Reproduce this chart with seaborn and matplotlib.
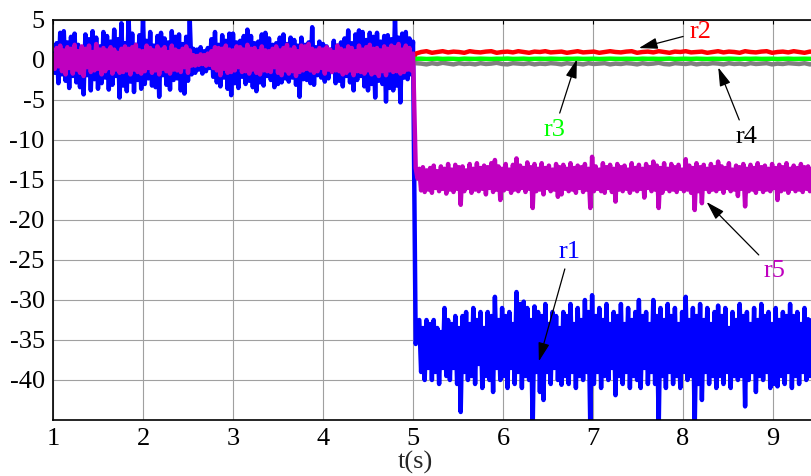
import numpy as np
import matplotlib
matplotlib.use('Agg')
import matplotlib.pyplot as plt
import seaborn as sns

# time grids (s), 50 samples per second
t_pre = np.linspace(1.0, 5.0, 201)
t_post = np.linspace(5.03, 9.47, 223)
t_flat_pre = [1.0, 2.0, 3.0, 4.0, 5.0]
t_flat_post = np.linspace(5.03, 9.47, 75)

# r1 (blue)
r1_pre = [0.8, -1.6, 2.1, -2.9, 3.4, -1.8, 3.6, -2.6, 2.2, -3.5,
          2.9, -2.0, 3.3, -2.8, 1.9, -3.4, 1.2, -4.3, 3.2, -1.9,
          2.6, -3.8, 3.6, -2.4, 2.8, -3.6, 1.7, -2.9, 3.5, -2.2,
          3.0, -3.7, 2.3, -3.1, 3.8, -2.0, 2.6, -4.7, 4.6, -3.2,
          2.1, -3.9, 5.4, -2.7, 3.3, -4.0, 1.9, -2.5, 3.1, -3.6,
          5.5, -3.0, 2.4, -2.3, 3.5, -3.2, 1.8, -3.4, 3.0, -4.6,
          3.4, -1.9, 2.7, -3.1, 2.2, -3.7, 3.6, -2.5, 2.9, -2.3,
          3.2, -3.8, 2.0, -4.2, 2.9, -2.6, 4.9, -1.8, 1.4, -1.6,
          1.3, -1.2, 1.6, -1.7, 1.1, -1.4, 1.5, -1.0, 2.6, -2.1,
          3.5, -2.8, 1.9, -3.3, 3.1, -2.2, 2.4, -3.6, 3.3, -4.4,
          3.3, -2.9, 2.2, -3.5, 2.4, -2.1, 3.0, -3.0, 3.8, -2.6,
          3.0, -3.4, 2.1, -3.9, 2.3, -2.8, 3.2, -3.2, 3.4, -2.0,
          2.7, -2.5, 1.9, -3.4, 2.1, -3.0, 2.8, -2.8, 3.2, -2.3,
          2.0, -2.7, 2.8, -2.2, 2.5, -3.1, 1.8, -4.6, 2.8, -2.4,
          1.9, -2.5, 2.2, -2.9, 4.1, -3.1, 1.6, -1.9, 2.3, -2.2,
          2.0, -2.7, 1.7, -2.3, 1.3, -1.5, 2.4, -2.9, 1.8, -2.6,
          2.2, -3.3, 2.7, -2.0, 3.7, -2.8, 2.1, -3.8, 3.2, -2.5,
          3.7, -2.0, 3.5, -3.3, 2.5, -3.8, 3.4, -3.0, 2.9, -4.7,
          3.4, -2.6, 2.3, -3.0, 3.0, -5.2, 3.1, -3.5, 2.6, -3.8,
          5.3, -3.2, 2.8, -5.3, 3.3, -2.2, 3.5, -2.4, 2.7, -1.8,
          2.3]
r1_post = [-35.5, -34.0, -32.5, -39.0, -33.5, -40.0, -32.5, -38.5, -33.0, -40.0,
           -32.5, -39.0, -33.5, -40.5, -34.0, -38.5, -31.0, -39.5, -32.5, -40.0,
           -33.0, -38.5, -32.0, -40.5, -33.5, -44.0, -32.0, -39.0, -31.5, -40.0,
           -33.0, -39.5, -31.0, -40.5, -32.5, -38.0, -31.5, -41.0, -33.5, -39.5,
           -31.5, -40.0, -32.0, -41.5, -29.6, -38.5, -32.5, -40.0, -31.0, -39.5,
           -32.0, -41.0, -31.5, -38.5, -33.0, -40.5, -29.0, -39.0, -30.5, -41.0,
           -30.2, -39.5, -31.0, -40.0, -32.5, -46.0, -30.8, -39.0, -31.5, -41.5,
           -32.0, -42.5, -30.5, -39.0, -33.0, -40.5, -31.5, -38.5, -32.0, -40.0,
           -33.5, -40.6, -31.5, -39.5, -32.0, -40.5, -30.5, -39.0, -33.0, -41.0,
           -31.0, -39.5, -32.5, -40.0, -30.0, -39.0, -31.5, -46.0, -29.4, -40.5,
           -32.0, -39.0, -31.0, -41.0, -32.5, -39.5, -30.5, -40.0, -33.0, -38.5,
           -31.5, -41.9, -32.0, -39.5, -30.5, -40.5, -33.0, -39.0, -31.0, -41.0,
           -32.5, -39.5, -31.5, -40.0, -30.0, -41.0, -32.0, -38.5, -31.5, -40.5,
           -33.0, -39.0, -30.0, -40.5, -32.0, -46.0, -31.0, -39.5, -32.5, -41.0,
           -30.5, -39.0, -32.0, -40.5, -31.0, -39.5, -33.0, -41.0, -31.5, -39.0,
           -29.6, -40.0, -32.5, -39.5, -31.0, -46.0, -32.0, -40.5, -30.5, -42.5,
           -32.5, -39.0, -31.0, -40.5, -33.0, -39.5, -31.5, -41.0, -30.7, -39.5,
           -32.0, -40.5, -31.0, -39.0, -33.5, -41.0, -31.5, -39.5, -32.5, -40.0,
           -30.5, -39.5, -32.0, -43.3, -31.5, -40.0, -33.0, -39.0, -31.0, -41.5,
           -32.5, -39.5, -30.5, -40.0, -32.0, -39.0, -31.5, -41.0, -33.0, -40.5,
           -31.0, -40.8, -32.5, -39.5, -31.5, -40.5, -32.0, -39.0, -30.5, -41.0,
           -32.0, -39.5, -31.5, -40.5, -33.0, -39.0, -31.0, -40.0, -32.4, -39.5,
           -32.5, -40.0, -33.0]

# r5 (magenta)
r5_pre = [0.6, -1.1, 1.5, -0.8, 1.8, -1.4, 1.2, -1.8, 1.6, -1.0,
          1.4, -1.7, 1.9, -1.2, 1.1, -1.6, 1.7, -2.0, 1.4, -0.9,
          1.8, -1.5, 1.0, -1.3, 2.0, -1.1, 1.3, -1.8, 1.5, -1.4,
          1.2, -1.0, 1.6, -1.7, 1.3, -1.2, 0.9, -1.6, 1.4, -1.5,
          1.7, -1.3, 1.4, -1.8, 1.6, -1.2, 1.9, -1.5, 1.2, -1.7,
          1.1, -1.4, 1.8, -1.0, 1.5, -1.6, 1.2, -1.3, 1.7, -1.8,
          1.3, -1.1, 1.6, -1.4, 1.0, -1.7, 1.8, -1.2, 1.3, -1.3,
          1.1, -1.5, 1.4, -0.9, 1.7, -1.6, 1.2, -0.7, 0.6, -0.7,
          0.5, -0.6, 0.7, -0.5, 0.6, -0.7, 0.8, -0.6, 1.1, -1.0,
          1.6, -1.3, 1.5, -1.9, 1.4, -1.1, 1.8, -1.6, 1.3, -1.5,
          1.2, -1.3, 1.7, -0.9, 1.6, -1.5, 1.3, -1.4, 1.9, -1.7,
          1.4, -1.2, 1.5, -1.6, 1.1, -1.8, 1.7, -1.3, 1.2, -1.4,
          1.1, -1.5, 1.4, -0.9, 1.7, -1.6, 1.2, -1.9, 1.5, -1.3,
          1.9, -1.7, 1.3, -1.4, 1.6, -2.0, 1.1, -1.5, 1.8, -1.3,
          1.7, -1.1, 2.0, -1.3, 1.4, -1.6, 1.2, -1.4, 1.5, -1.0,
          1.3, -1.7, 1.6, -1.2, 1.3, -1.5, 1.0, -1.3, 1.8, -1.4,
          1.4, -1.8, 1.2, -1.6, 1.7, -1.3, 1.5, -1.9, 1.1, -1.4,
          1.8, -1.5, 1.3, -1.7, 1.6, -1.3, 1.9, -1.8, 1.4, -1.6,
          1.5, -2.0, 1.2, -1.4, 1.7, -1.9, 1.4, -1.3, 1.8, -1.5,
          1.6, -1.4, 2.0, -1.7, 1.3, -1.5, 1.8, -1.2, 1.5, -1.3,
          0.8]
r5_post = [-13.5, -14.8, -13.6, -16.3, -13.4, -16.5, -13.8, -16.2, -13.5, -16.6,
           -13.2, -16.0, -13.9, -16.4, -13.3, -16.1, -13.6, -16.7, -13.0, -16.2,
           -13.7, -16.5, -13.1, -16.1, -13.4, -18.1, -13.3, -16.4, -13.8, -16.0,
           -13.0, -16.6, -13.6, -16.2, -12.9, -16.4, -13.5, -16.1, -13.2, -16.8,
           -13.4, -16.0, -12.9, -16.5, -12.5, -16.2, -13.3, -17.5, -13.6, -16.3,
           -13.0, -16.1, -13.7, -16.6, -13.1, -16.2, -12.3, -16.4, -13.2, -16.0,
           -13.5, -16.5, -12.8, -16.1, -13.4, -18.5, -13.0, -16.4, -13.6, -16.2,
           -12.9, -16.8, -13.5, -16.0, -13.2, -16.4, -13.7, -16.2, -13.0, -17.1,
           -13.4, -16.8, -13.1, -16.1, -13.6, -16.4, -12.9, -16.2, -13.5, -16.6,
           -13.2, -16.0, -13.4, -16.5, -13.0, -16.2, -13.6, -18.5, -12.1, -16.4,
           -13.3, -16.1, -13.7, -16.4, -12.9, -16.6, -13.4, -16.0, -13.1, -16.5,
           -13.6, -17.7, -13.0, -16.2, -13.4, -16.4, -13.2, -16.1, -13.7, -16.6,
           -12.9, -16.2, -13.5, -16.4, -13.1, -16.1, -13.6, -17.2, -13.0, -16.0,
           -13.4, -16.4, -12.7, -16.2, -13.2, -18.5, -13.5, -16.6, -12.9, -16.1,
           -13.6, -16.4, -13.0, -16.2, -13.4, -16.5, -13.1, -16.1, -13.7, -16.4,
           -12.4, -16.2, -13.2, -16.6, -13.5, -18.75, -12.9, -16.4, -13.4, -17.9,
           -13.1, -16.1, -13.6, -16.5, -13.0, -16.2, -13.4, -16.4, -12.7, -16.1,
           -13.3, -16.6, -13.5, -16.0, -12.9, -16.4, -13.7, -16.2, -13.2, -17.0,
           -13.4, -16.1, -13.0, -18.3, -13.6, -16.4, -13.1, -16.2, -13.5, -16.6,
           -12.9, -16.1, -13.4, -16.5, -13.2, -16.2, -13.6, -16.4, -13.0, -16.0,
           -13.5, -17.5, -13.1, -16.4, -13.4, -16.2, -12.9, -16.6, -13.6, -16.1,
           -13.2, -16.4, -13.5, -16.2, -13.0, -16.5, -13.4, -16.1, -13.3, -16.4,
           -13.6, -16.2, -13.1]

# r2, r3, r4 (nearly flat after t=5)
r2_pre = [0.0, -0.1, 0.1, 0.0, 0.0]
r2_post = [0.8, 1.0, 1.1, 0.9, 1.0, 1.1, 0.95, 1.05, 1.0, 0.9,
           1.1, 1.0, 0.95, 1.05, 1.1, 0.9, 1.0, 1.05, 0.95, 1.1,
           1.0, 0.9, 1.05, 1.0, 1.1, 0.95, 1.0, 1.05, 0.9, 1.0,
           1.1, 0.95, 1.0, 1.05, 0.9, 1.0, 1.1, 1.0, 0.95, 1.05,
           1.1, 0.9, 1.0, 1.05, 0.95, 1.1, 1.0, 0.9, 1.05, 1.0,
           1.1, 0.95, 1.0, 1.05, 0.9, 1.0, 1.1, 0.95, 1.05, 1.0,
           0.9, 1.1, 1.0, 0.95, 1.05, 1.1, 0.9, 1.0, 1.05, 0.95,
           1.1, 1.0, 0.9, 1.05, 1.0]
r3_pre = [0.0, 0.0, 0.05, 0.0, 0.0]
r3_post = [0.15, 0.17, 0.13, 0.15, 0.18, 0.14, 0.16, 0.15, 0.12, 0.17,
           0.15, 0.14, 0.17, 0.15, 0.13, 0.16, 0.15, 0.18, 0.14, 0.15,
           0.17, 0.13, 0.15, 0.16, 0.14, 0.17, 0.15, 0.13, 0.16, 0.15,
           0.17, 0.14, 0.15, 0.16, 0.13, 0.15, 0.17, 0.15, 0.14, 0.16,
           0.15, 0.13, 0.17, 0.15, 0.16, 0.14, 0.15, 0.18, 0.13, 0.15,
           0.16, 0.14, 0.17, 0.15, 0.13, 0.16, 0.15, 0.14, 0.17, 0.15,
           0.13, 0.16, 0.15, 0.17, 0.14, 0.15, 0.16, 0.13, 0.15, 0.17,
           0.14, 0.15, 0.16, 0.15, 0.14]
r4_pre = [0.0, -0.05, 0.0, 0.05, 0.0]
r4_post = [-0.4, -0.45, -0.55, -0.4, -0.5, -0.35, -0.45, -0.55, -0.4, -0.5,
           -0.45, -0.55, -0.4, -0.5, -0.45, -0.35, -0.5, -0.55, -0.4, -0.45,
           -0.5, -0.4, -0.55, -0.45, -0.5, -0.4, -0.45, -0.55, -0.4, -0.5,
           -0.45, -0.55, -0.4, -0.5, -0.45, -0.4, -0.55, -0.45, -0.5, -0.4,
           -0.45, -0.55, -0.4, -0.5, -0.45, -0.35, -0.5, -0.55, -0.4, -0.45,
           -0.5, -0.4, -0.55, -0.45, -0.5, -0.4, -0.45, -0.55, -0.4, -0.5,
           -0.45, -0.55, -0.4, -0.5, -0.45, -0.4, -0.55, -0.45, -0.5, -0.4,
           -0.45, -0.5, -0.4, -0.55, -0.45]

t_main = np.concatenate([t_pre, t_post])
t_flat = np.concatenate([t_flat_pre, t_flat_post])

sns.set_theme(style='white')
plt.rcParams['font.family'] = ['Liberation Serif', 'DejaVu Serif']
plt.rcParams['axes.unicode_minus'] = False

fig = plt.figure(figsize=(8.11, 4.76), dpi=100)
ax = fig.add_axes([53 / 811, 56 / 476, 765 / 811, 400 / 476])

lw = 3.2
sns.lineplot(x=t_main, y=r1_pre + r1_post, color='#0000FF', lw=lw, sort=False, estimator=None, ax=ax)
sns.lineplot(x=t_flat, y=r2_pre + r2_post, color='#FF0000', lw=lw, sort=False, estimator=None, ax=ax)
sns.lineplot(x=t_flat, y=r4_pre + r4_post, color='#808080', lw=lw, sort=False, estimator=None, ax=ax)
sns.lineplot(x=t_flat, y=r3_pre + r3_post, color='#00FF00', lw=lw, sort=False, estimator=None, ax=ax)
sns.lineplot(x=t_main, y=r5_pre + r5_post, color='#BF00BF', lw=lw, sort=False, estimator=None, ax=ax)

ax.set_xlim(1, 9.5)
ax.set_ylim(-45, 5)
ax.set_xticks(range(1, 10))
ax.set_yticks(range(-40, 6, 5))
ax.grid(True, color='#a0a0a0', lw=0.8)
ax.set_axisbelow(True)
ax.tick_params(direction='in', length=3, width=0.8, top=True, labelsize=19,
               colors='black', pad=6)
for s in ['left', 'top', 'bottom']:
    ax.spines[s].set_color('black')
    ax.spines[s].set_linewidth(1.2)
ax.spines['right'].set_visible(False)
ax.set_xlabel('')
ax.set_ylabel('')

fig.text(415 / 811, 14 / 476, 't(s)', fontsize=19, ha='center', va='center')

arrow = dict(arrowstyle='-|>,head_length=0.6,head_width=0.18', color='black', lw=0.9)
ax.annotate('r2', xy=(7.48, 1.4), xytext=(8.19, 3.5), color='#FF0000', fontsize=19,
            ha='center', va='center', arrowprops=arrow)
ax.annotate('r3', xy=(6.83, 0.4), xytext=(6.57, -8.75), color='#00FF00', fontsize=19,
            ha='center', va='center', arrowprops=arrow)
ax.annotate('r4', xy=(8.38, -0.6), xytext=(8.70, -9.6), color='black', fontsize=19,
            ha='center', va='center', arrowprops=arrow)
ax.annotate('r5', xy=(8.24, -17.5), xytext=(9.02, -26.4), color='#BF00BF', fontsize=19,
            ha='center', va='center', arrowprops=arrow)
ax.annotate('r1', xy=(6.39, -38.0), xytext=(6.74, -24.0), color='#0000FF', fontsize=19,
            ha='center', va='center', arrowprops=arrow)

fig.savefig('out.png', dpi=100)
